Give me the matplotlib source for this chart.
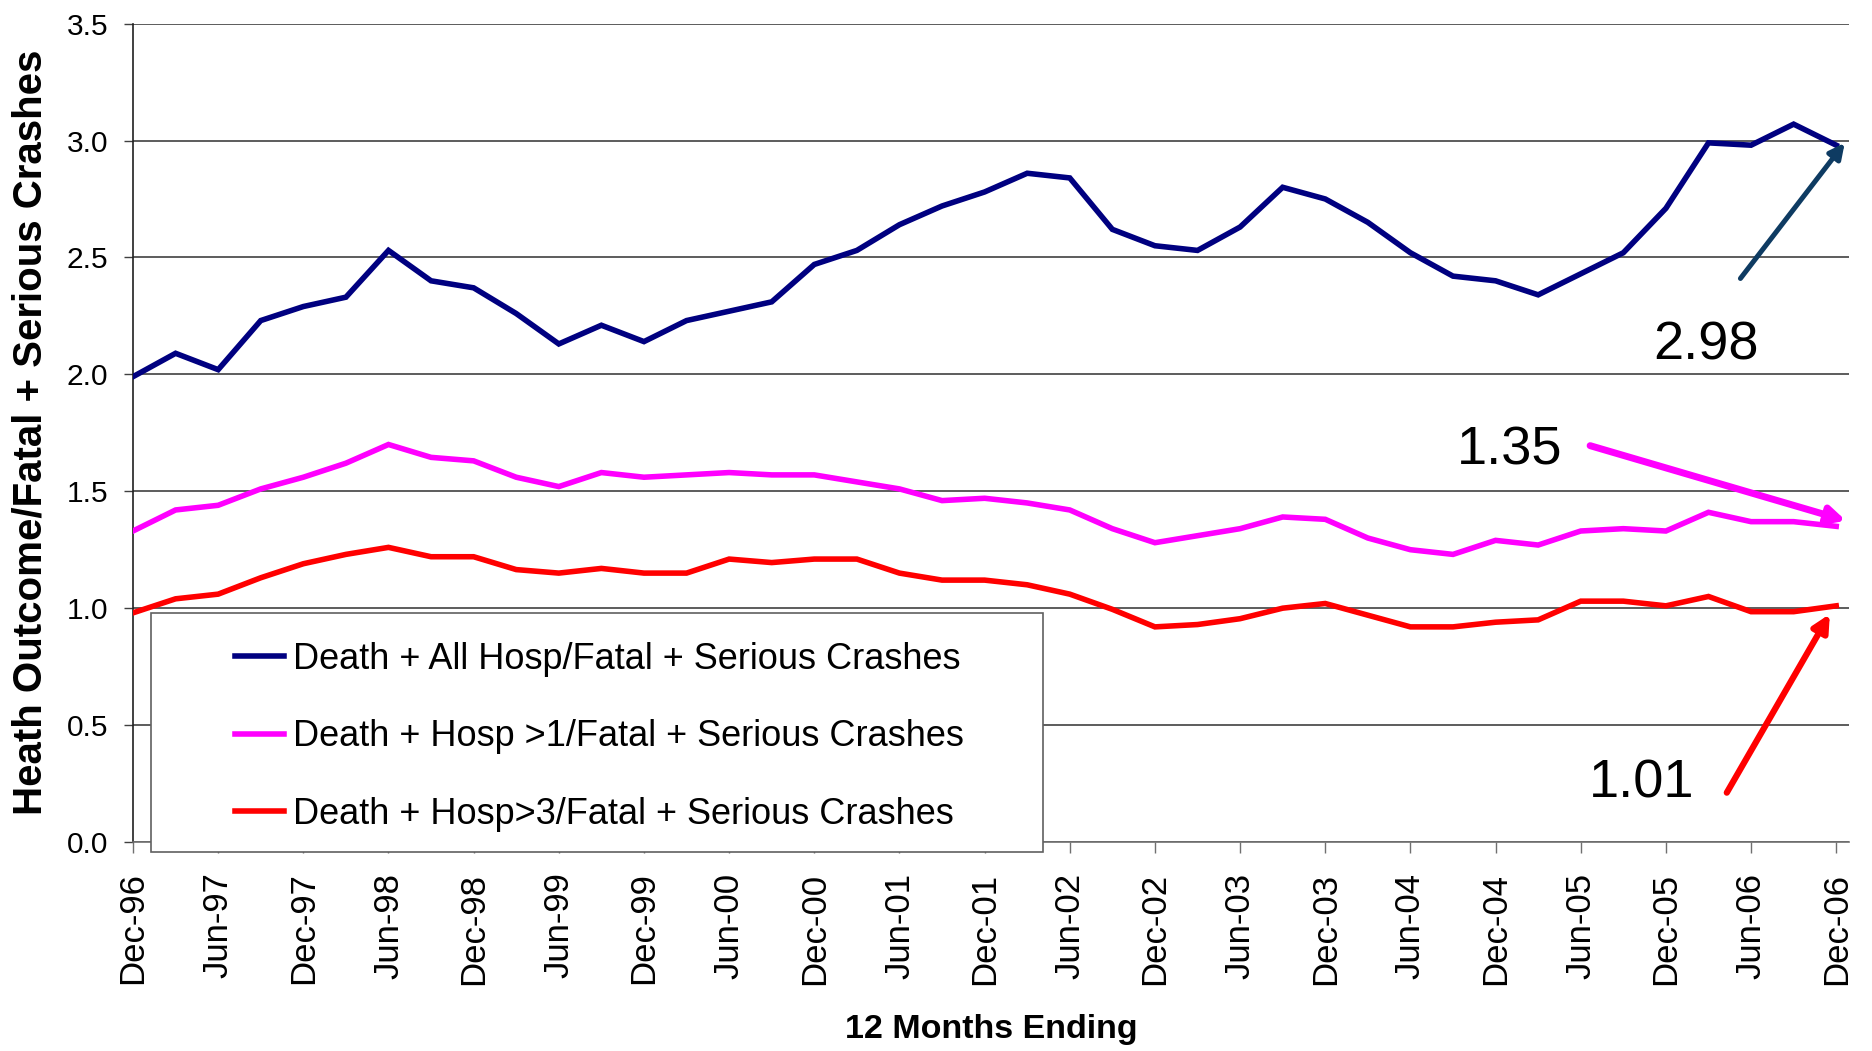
import numpy as np
import matplotlib
matplotlib.use("Agg")
import matplotlib.pyplot as plt
from matplotlib import font_manager as fm
from matplotlib.patches import Rectangle
from matplotlib.lines import Line2D

# ---------------- data ----------------
tick_labels = ["Dec-96", "Jun-97", "Dec-97", "Jun-98", "Dec-98", "Jun-99", "Dec-99",
               "Jun-00", "Dec-00", "Jun-01", "Dec-01", "Jun-02", "Dec-02", "Jun-03",
               "Dec-03", "Jun-04", "Dec-04", "Jun-05", "Dec-05", "Jun-06", "Dec-06"]

all_hosp = [1.99, 2.09, 2.02, 2.23, 2.29, 2.33, 2.53, 2.40, 2.37, 2.26, 2.13, 2.21, 2.14, 2.23,
            2.27, 2.31, 2.47, 2.53, 2.64, 2.72, 2.78, 2.86, 2.84, 2.62, 2.55, 2.53, 2.63, 2.80,
            2.75, 2.65, 2.52, 2.42, 2.40, 2.34, 2.43, 2.52, 2.71, 2.99, 2.98, 3.07, 2.98]
hosp_gt1 = [1.33, 1.42, 1.44, 1.51, 1.56, 1.62, 1.70, 1.645, 1.63, 1.56, 1.52, 1.58, 1.56, 1.57,
            1.58, 1.57, 1.57, 1.54, 1.51, 1.46, 1.47, 1.45, 1.42, 1.34, 1.28, 1.31, 1.34, 1.39,
            1.38, 1.30, 1.25, 1.23, 1.29, 1.27, 1.33, 1.34, 1.33, 1.41, 1.37, 1.37, 1.35]
hosp_gt3 = [0.98, 1.04, 1.06, 1.13, 1.19, 1.23, 1.26, 1.22, 1.22, 1.165, 1.15, 1.17, 1.15, 1.15,
            1.21, 1.195, 1.21, 1.21, 1.15, 1.12, 1.12, 1.10, 1.06, 0.995, 0.92, 0.93, 0.955, 1.00,
            1.02, 0.97, 0.92, 0.92, 0.94, 0.95, 1.03, 1.03, 1.01, 1.05, 0.985, 0.985, 1.01]

series_names = ["Death + All Hosp/Fatal + Serious Crashes",
                "Death + Hosp >1/Fatal + Serious Crashes",
                "Death + Hosp>3/Fatal + Serious Crashes"]
series_colors = ["#000080", "#FF00FF", "#FF0000"]

callout_values = ["2.98", "1.35", "1.01"]

# ---------------- fonts ----------------
names = {f.name for f in fm.fontManager.ttflist}
BASE = "Liberation Sans" if "Liberation Sans" in names else "DejaVu Sans"
NARROW = "Liberation Sans Narrow" if "Liberation Sans Narrow" in names else None
plt.rcParams["font.family"] = [BASE, "DejaVu Sans"]

if NARROW:
    xtick_font = dict(family=[NARROW, BASE], size=30)
    callout_font = dict(family=[NARROW, BASE], size=44)
else:
    xtick_font = dict(family=[BASE], size=25)
    callout_font = dict(family=[BASE], size=39)

W, H = 1872, 1051
fig = plt.figure(figsize=(W / 100, H / 100), dpi=100)
fig.patch.set_facecolor("white")

ax_l, ax_r, ax_t, ax_b = 133, 1849, 23.6, 842
ax = fig.add_axes([ax_l / W, 1 - ax_b / H, (ax_r - ax_l) / W, (ax_b - ax_t) / H])

x = np.arange(len(all_hosp))
for vals, col in zip([all_hosp, hosp_gt1, hosp_gt3], series_colors):
    ax.plot(x, vals, color=col, lw=4.0, solid_joinstyle="miter", zorder=3)

ax.set_xlim(0, 40.3)
ax.set_ylim(0, 3.5)
ax.set_yticks(np.arange(0, 3.51, 0.5))
ax.set_yticklabels([f"{v:.1f}" for v in np.arange(0, 3.51, 0.5)], fontsize=21.5)
ax.set_xticks(np.arange(0, 41, 2))
ax.set_xticklabels(tick_labels, rotation=90, **xtick_font)

ax.yaxis.grid(True, color="#303030", lw=1.1)
ax.set_axisbelow(True)
for s in ["top", "right"]:
    ax.spines[s].set_visible(False)
ax.spines["left"].set_color("#202020")
ax.spines["left"].set_linewidth(1.2)
ax.spines["bottom"].set_color("#707070")
ax.spines["bottom"].set_linewidth(1.2)
ax.tick_params(axis="y", direction="out", length=6.5, width=1, color="#404040", pad=11.5)
ax.tick_params(axis="x", direction="out", length=8, width=1, color="#707070", pad=14)

ax.set_xlabel("12 Months Ending", fontsize=24.5, fontweight="bold", labelpad=21)
ax.set_ylabel("Heath Outcome/Fatal + Serious Crashes", fontsize=29, fontweight="bold", labelpad=12)

# ---------------- call-outs ----------------
ax.annotate("", xy=(40.2, 2.99), xytext=(37.75, 2.41),
            arrowprops=dict(arrowstyle="-|>,head_length=0.9,head_width=0.45", color="#0E3B62",
                            lw=3.6, shrinkA=0, shrinkB=0), zorder=5)
ax.annotate("", xy=(40.23, 1.374), xytext=(34.22, 1.695),
            arrowprops=dict(arrowstyle="-|>,head_length=1.0,head_width=0.5", color="#FF00FF",
                            lw=5.0, shrinkA=0, shrinkB=0), zorder=5)
ax.annotate("", xy=(39.85, 0.975), xytext=(37.43, 0.211),
            arrowprops=dict(arrowstyle="-|>,head_length=1.0,head_width=0.5", color="#FF0000",
                            lw=4.5, shrinkA=0, shrinkB=0), zorder=5)
ax.text(36.93, 2.124, callout_values[0], ha="center", va="center", **callout_font)
ax.text(32.34, 1.675, callout_values[1], ha="center", va="center", **callout_font)
ax.text(35.44, 0.250, callout_values[2], ha="center", va="center", **callout_font)

# ---------------- legend ----------------
fig.patches.append(Rectangle((151 / W, 1 - 852 / H), (1043 - 151) / W, (852 - 613) / H,
                             transform=fig.transFigure, facecolor="white",
                             edgecolor="#606060", lw=1.2, zorder=4))
handles = [Line2D([], [], color=c, lw=4.0) for c in series_colors]
fig.legend(handles, series_names, loc="center left",
           bbox_to_anchor=(235 / W, 1 - 737 / H), bbox_transform=fig.transFigure,
           frameon=False, fontsize=26, borderpad=0, borderaxespad=0,
           handlelength=1.36, handletextpad=0.25, labelspacing=1.18).set_zorder(6)

fig.savefig("out.png", dpi=100, facecolor="white")
